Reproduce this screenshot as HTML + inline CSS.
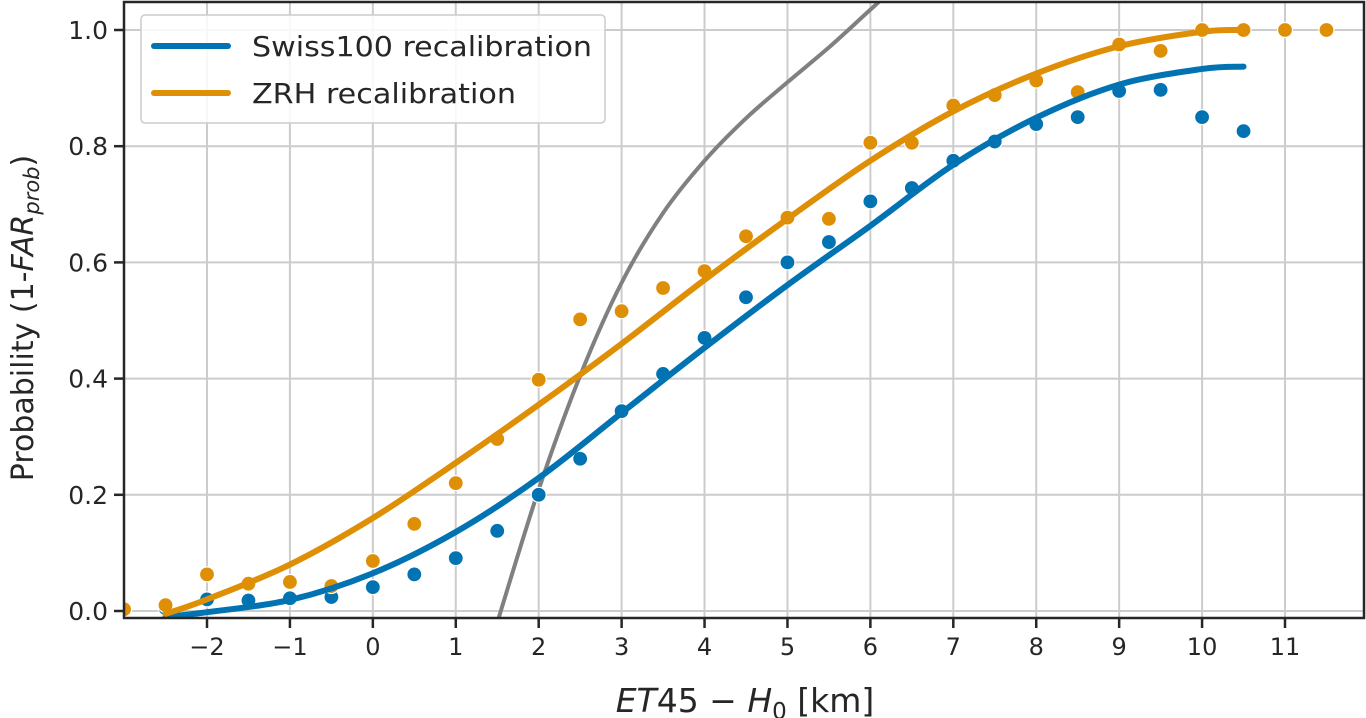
<!DOCTYPE html>
<html><head><meta charset="utf-8"><style>
body{margin:0;background:#fff}
svg{display:block;font-family:"DejaVu Sans","Liberation Sans",sans-serif}
</style></head><body>
<svg id="chart" width="1366" height="718" viewBox="0 0 1366 718">
<g id="grid"></g>
<g id="series"></g>
<g id="axes"></g>
<g>
<rect x="141" y="15" width="464" height="108" rx="4" fill="#fff" fill-opacity="0.85" stroke="#ccc" stroke-width="1.5"/>
<line x1="154" y1="46" x2="228" y2="46" stroke="#0173b2" stroke-width="6" stroke-linecap="round"/>
<text x="252" y="56" font-size="27.5" fill="#262626" textLength="340" lengthAdjust="spacingAndGlyphs">Swiss100 recalibration</text>
<line x1="154" y1="93" x2="228" y2="93" stroke="#de8f05" stroke-width="6" stroke-linecap="round"/>
<text x="252" y="103" font-size="27.5" fill="#262626" textLength="264" lengthAdjust="spacingAndGlyphs">ZRH recalibration</text>
</g>
<text transform="translate(33,318) rotate(-90)" text-anchor="middle" font-size="30" fill="#262626">Probability (1-<tspan font-style="italic">FAR</tspan><tspan font-style="italic" font-size="21" dy="6">prob</tspan><tspan dy="-6">)</tspan></text>
<text x="745" y="712" text-anchor="middle" font-size="33" fill="#262626"><tspan font-style="italic">ET</tspan><tspan>45 − </tspan><tspan font-style="italic">H</tspan><tspan font-size="23" dy="7">0</tspan><tspan dy="-7"> [km]</tspan></text>
</svg>
<script>
const xTicks=[-2,-1,0,1,2,3,4,5,6,7,8,9,10,11];
const yTicks=[0,0.2,0.4,0.6,0.8,1.0];
const obsX=[-3,-2.5,-2,-1.5,-1,-0.5,0,0.5,1,1.5,2,2.5,3,3.5,4,4.5,5,5.5,6,6.5,7,7.5,8,8.5,9,9.5,10,10.5,11,11.5];
const zrhObs=[0.003,0.01,0.063,0.047,0.05,0.043,0.086,0.15,0.22,0.296,0.398,0.502,0.516,0.556,0.585,0.645,0.677,0.675,0.806,0.806,0.87,0.888,0.913,0.893,0.975,0.964,1.0,1.0,1.0,1.0];
const swissObsX=[-2.5,-2,-1.5,-1,-0.5,0,0.5,1,1.5,2,2.5,3,3.5,4,4.5,5,5.5,6,6.5,7,7.5,8,8.5,9,9.5,10,10.5];
const swissObs=[0.005,0.02,0.018,0.022,0.024,0.041,0.063,0.091,0.138,0.2,0.262,0.344,0.408,0.47,0.54,0.6,0.635,0.705,0.728,0.775,0.808,0.838,0.85,0.895,0.897,0.85,0.826];
const curveX=[-2.5,-2,-1,0,1,2,3,4,5,6,7,8,9,10,10.5];
const swissCurve=[-0.01,-0.002,0.019,0.065,0.136,0.229,0.341,0.453,0.561,0.663,0.768,0.849,0.906,0.933,0.937];
const zrhCurve=[-0.005,0.02,0.08,0.16,0.255,0.355,0.46,0.57,0.675,0.775,0.86,0.925,0.972,0.997,1.0];
const grayX=[1.5,2,2.5,3,3.5,4,4.5,5,5.5,6,6.5];
const grayY=[-0.02,0.209,0.405,0.565,0.685,0.775,0.848,0.91,0.97,1.035,1.1];

const L=124,R=1364,T=2,B=618;
const X=v=>207+(v+2)*(1285-207)/13;
const Y=v=>611-v*581;
const NS='http://www.w3.org/2000/svg';
function mk(tag,attrs,parent){const e=document.createElementNS(NS,tag);for(const k in attrs)e.setAttribute(k,attrs[k]);parent.appendChild(e);return e;}
const grid=document.getElementById('grid'),axes=document.getElementById('axes'),ser=document.getElementById('series');
const cp=mk('clipPath',{id:'clip'},document.getElementById('chart'));
mk('rect',{x:L,y:T,width:R-L,height:B-T},cp);
xTicks.forEach(t=>{
 const g=mk('line',{x1:X(t),x2:X(t),y1:T,y2:B,stroke:'#cccccc','stroke-width':2},grid);
 
 
 const k=mk('line',{x1:X(t),x2:X(t),y1:B,y2:B+10,stroke:'#262626','stroke-width':2.5},axes);
 
 
 const tx=mk('text',{x:X(t),y:B+37,'text-anchor':'middle','font-size':24,fill:'#262626'},axes);
 tx.textContent=t<0?'\u2212'+(-t):String(t);
 
 
});
yTicks.forEach(t=>{
 const g=mk('line',{x1:L,x2:R,y1:Y(t),y2:Y(t),stroke:'#cccccc','stroke-width':2},grid);
 
 
 const k=mk('line',{x1:L-10,x2:L,y1:Y(t),y2:Y(t),stroke:'#262626','stroke-width':2.5},axes);
 
 
 const tx=mk('text',{x:L-16,y:Y(t)+9,'text-anchor':'end','font-size':25,fill:'#262626'},axes);
 tx.textContent=t.toFixed(1);
 
 
});
const fr=mk('rect',{x:L,y:T,width:R-L,height:B-T,fill:'none',stroke:'#262626','stroke-width':2.5},axes);


function smooth(xs,ys){
 const p=xs.map((x,i)=>[X(x),Y(ys[i])]);let d='M'+p[0][0]+','+p[0][1];
 for(let i=0;i<p.length-1;i++){const p0=p[i-1]||p[i],p1=p[i],p2=p[i+1],p3=p[i+2]||p2;
  d+=' C'+(p1[0]+(p2[0]-p0[0])/6)+','+(p1[1]+(p2[1]-p0[1])/6)+' '+(p2[0]-(p3[0]-p1[0])/6)+','+(p2[1]-(p3[1]-p1[1])/6)+' '+p2[0]+','+p2[1];}
 return d;}
const gl=mk('path',{d:smooth(grayX,grayY),fill:'none',stroke:'#808080','stroke-width':4,'clip-path':'url(#clip)'},ser);


function dots(xs,ys,c,name){xs.forEach((x,i)=>{const d=mk('circle',{cx:X(x),cy:Y(ys[i]),r:7.5,fill:c,stroke:'#fff','stroke-width':1.2,'clip-path':'url(#clip)'},ser);
 
 });}
dots(swissObsX,swissObs,'#0173b2','swiss100-observed-point');
dots(obsX,zrhObs,'#de8f05','zrh-observed-point');
const sl=mk('path',{d:smooth(curveX,swissCurve),fill:'none',stroke:'#0173b2','stroke-width':6,'stroke-linecap':'round','clip-path':'url(#clip)'},ser);


const zl=mk('path',{d:smooth(curveX,zrhCurve),fill:'none',stroke:'#de8f05','stroke-width':6,'stroke-linecap':'round','clip-path':'url(#clip)'},ser);


</script>
</body></html>
